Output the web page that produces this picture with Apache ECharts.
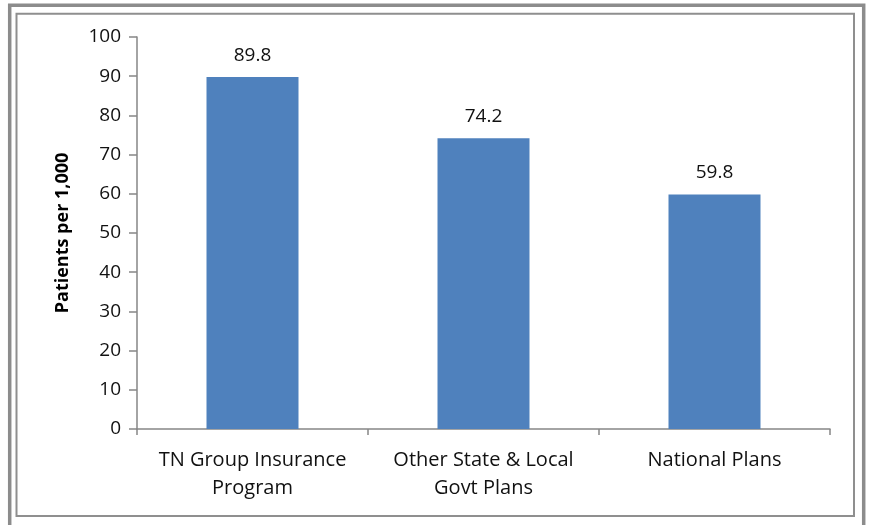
<!DOCTYPE html>
<html>
<head>
<meta charset="utf-8">
<script src="https://cdn.jsdelivr.net/npm/echarts@6/dist/echarts.min.js"></script>
<style>
html,body{margin:0;padding:0;background:#fff;}
#chart{width:870px;height:525px;}
</style>
</head>
<body>
<div id="chart"></div>
<script>
const categories = ['TN Group Insurance\nProgram', 'Other State & Local\nGovt Plans', 'National Plans'];
const values = [89.8, 74.2, 59.8];
const yTicks = [0, 10, 20, 30, 40, 50, 60, 70, 80, 90, 100];
const yAxisTitle = 'Patients per 1,000';

const FONT = '"Open Sans", "Liberation Sans", sans-serif';
const chart = echarts.init(document.getElementById('chart'), null, {renderer: 'canvas'});
chart.setOption({
  animation: false,
  backgroundColor: '#ffffff',
  graphic: [
    {type: 'rect', silent: true, z: 100, shape: {x: 9.7, y: 5.3, width: 854, height: 540},
     style: {fill: 'none', stroke: '#8c8c8c', lineWidth: 3.5}},
    {type: 'rect', silent: true, z: 100, shape: {x: 16.5, y: 13.7, width: 837.5, height: 502.3},
     style: {fill: 'none', stroke: '#8f8f8f', lineWidth: 2}}
  ],
  grid: {left: 137, right: 40, top: 37, bottom: 96, containLabel: false},
  xAxis: {
    type: 'category',
    data: categories,
    axisLine: {lineStyle: {color: '#868686', width: 1.5}},
    axisTick: {show: true, length: 6, lineStyle: {color: '#868686', width: 1.5}},
    axisLabel: {color: '#111', fontFamily: FONT, fontSize: 20, lineHeight: 28, margin: 17, interval: 0}
  },
  yAxis: {
    type: 'value',
    min: yTicks[0],
    max: yTicks[yTicks.length - 1],
    interval: yTicks[1] - yTicks[0],
    name: yAxisTitle,
    nameLocation: 'middle',
    nameGap: 65,
    nameRotate: 90,
    nameTextStyle: {color: '#000', fontFamily: FONT, fontSize: 18, fontWeight: 'bold'},
    axisLine: {show: true, lineStyle: {color: '#868686', width: 1.5}},
    axisTick: {show: true, length: 8, lineStyle: {color: '#868686', width: 1.5}},
    splitLine: {show: false},
    axisLabel: {color: '#111', fontFamily: FONT, fontSize: 19, margin: 16}
  },
  series: [{
    type: 'bar',
    data: values,
    barWidth: 92,
    itemStyle: {color: '#4f81bd'},
    label: {show: true, position: 'top', distance: 12, color: '#111', fontFamily: FONT, fontSize: 19,
            formatter: p => p.value.toFixed(1)}
  }]
});
</script>
</body>
</html>
